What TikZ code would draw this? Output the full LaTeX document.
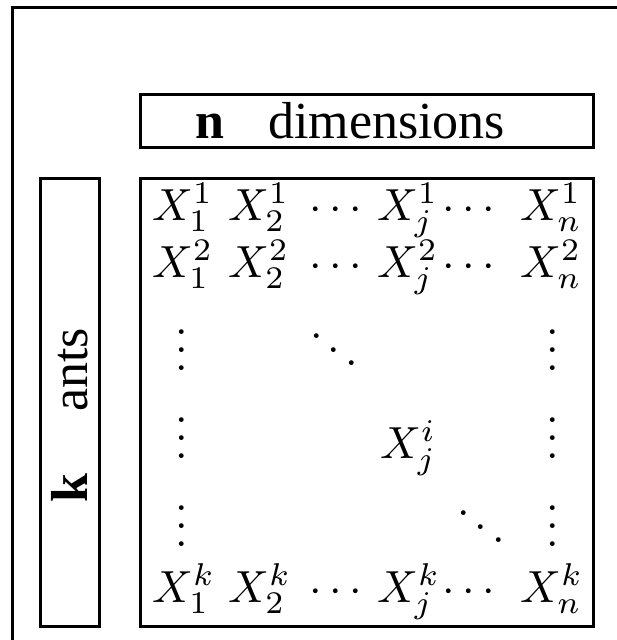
\documentclass[tikz,border=0pt]{standalone}
\usepackage{fontspec}
\newfontfamily\tnr{Liberation Serif}
\newcommand\mbig[1]{\scalebox{4.5}{$#1$}}
\begin{document}
\begin{tikzpicture}[x=1pt,y=-1pt,
  box/.style={draw, line width=3pt, inner sep=0pt},
  ent/.style={inner sep=0pt, anchor=base west},
  dts/.style={inner sep=0pt, anchor=base},
  lab/.style={inner sep=0pt, anchor=base west, font=\fontsize{52}{60}\selectfont\tnr}]
\useasboundingbox (0,0) rectangle (617,640);
\draw[line width=3pt] (12,640) -- (12,7.5) -- (617,7.5);
% boxes
\node[box, minimum width=453pt, minimum height=53pt] (nbox) at (366.5,120.5) {};
\node[box, minimum width=59pt, minimum height=448pt] (kbox) at (69.5,402) {};
\node[box, minimum width=453pt, minimum height=448pt] (mbox) at (366.5,402) {};
% labels
\node[lab] (ntext) at (195,138) {{\bfseries n}\hspace{44pt}dimensions};
\node[lab, rotate=90] (ktext) at (87,503) {{\bfseries k}\hspace{62pt}ants};
% row 1
\node[ent] (a11) at (152,220) {\mbig{X_1^1}};
\node[ent] (a12) at (228,220) {\mbig{X_2^1}};
\node[dts] (c11) at (336,220) {\mbig{\cdots}};
\node[ent] (a1j) at (377,220) {\mbig{X_j^1}};
\node[dts] (c12) at (469,220) {\mbig{\cdots}};
\node[ent] (a1n) at (520,220) {\mbig{X_n^1}};
% row 2
\node[ent] (a21) at (152,277) {\mbig{X_1^2}};
\node[ent] (a22) at (228,277) {\mbig{X_2^2}};
\node[dts] (c21) at (336,277) {\mbig{\cdots}};
\node[ent] (a2j) at (377,277) {\mbig{X_j^2}};
\node[dts] (c22) at (469,277) {\mbig{\cdots}};
\node[ent] (a2n) at (520,277) {\mbig{X_n^2}};
% vertical dots
\node[dts] (v11) at (182,370) {\mbig{\vdots}};
\node[dts] (v12) at (182,458) {\mbig{\vdots}};
\node[dts] (v13) at (182,546) {\mbig{\vdots}};
\node[dts] (v21) at (553,370) {\mbig{\vdots}};
\node[dts] (v22) at (553,458) {\mbig{\vdots}};
\node[dts] (v23) at (553,546) {\mbig{\vdots}};
% diagonal dots
\node[dts] (d1) at (334,370) {\mbig{\ddots}};
\node[dts] (d2) at (481,547) {\mbig{\ddots}};
% middle
\node[ent] (aij) at (380,458) {\mbig{X_j^i}};
% last row
\node[ent] (ak1) at (152,602) {\mbig{X_1^k}};
\node[ent] (ak2) at (228,602) {\mbig{X_2^k}};
\node[dts] (ck1) at (336,602) {\mbig{\cdots}};
\node[ent] (akj) at (377,602) {\mbig{X_j^k}};
\node[dts] (ck2) at (469,602) {\mbig{\cdots}};
\node[ent] (akn) at (520,602) {\mbig{X_n^k}};
\end{tikzpicture}
\end{document}
